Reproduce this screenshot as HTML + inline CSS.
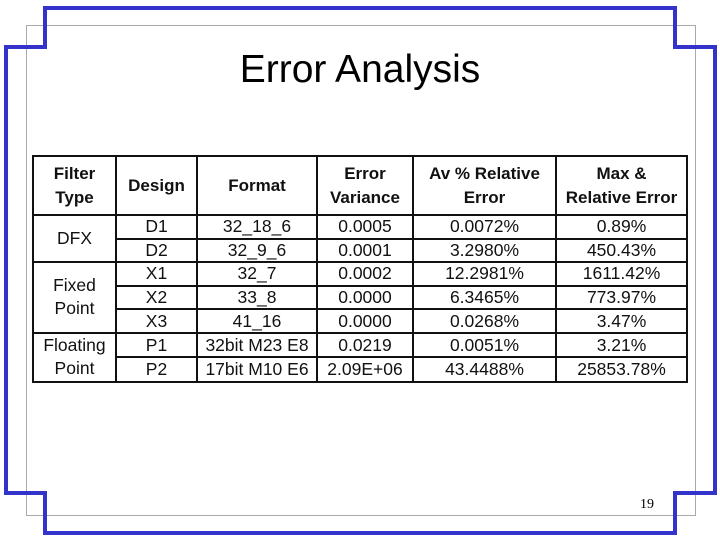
<!DOCTYPE html>
<html><head><meta charset="utf-8"><style>
body{margin:0;width:720px;height:540px;position:relative;background:#fff;overflow:hidden;font-family:"Liberation Sans",Arial,sans-serif}
.a{position:absolute}
.b{background:#3333cc}
.g{background:#aaa}
#title{left:0;width:720px;top:48px;text-align:center;font-size:39px;color:#000}
table{position:absolute;left:32px;top:155px;width:654px;height:228px;border-collapse:collapse;table-layout:fixed}
td{border:2px solid #111;text-align:center;font-size:17.5px;padding:0;line-height:21px;color:#111}
td.m{line-height:23px}
tr.h td{font-weight:bold;font-size:17px;line-height:24px}
</style></head><body>
<div class="a g" style="left:26px;top:25px;width:670px;height:1px"></div>
<div class="a g" style="left:26px;top:25px;width:1px;height:490px"></div>
<div class="a g" style="left:695px;top:25px;width:1px;height:490px"></div>
<div class="a g" style="left:26px;top:515px;width:670px;height:1px"></div>
<div class="a b" style="left:43px;top:6px;width:634px;height:4px"></div>
<div class="a b" style="left:43px;top:6px;width:4px;height:43px"></div>
<div class="a b" style="left:4px;top:45px;width:43px;height:4px"></div>
<div class="a b" style="left:673px;top:6px;width:4px;height:43px"></div>
<div class="a b" style="left:673px;top:45px;width:44px;height:4px"></div>
<div class="a b" style="left:4px;top:45px;width:4px;height:450px"></div>
<div class="a b" style="left:713px;top:45px;width:4px;height:450px"></div>
<div class="a b" style="left:4px;top:491px;width:43px;height:4px"></div>
<div class="a b" style="left:43px;top:491px;width:4px;height:44px"></div>
<div class="a b" style="left:673px;top:491px;width:44px;height:4px"></div>
<div class="a b" style="left:673px;top:491px;width:4px;height:44px"></div>
<div class="a b" style="left:43px;top:531px;width:634px;height:4px"></div>
<div class="a" id="title">Error Analysis</div>
<table>
<colgroup><col style="width:83px"><col style="width:81px"><col style="width:120px"><col style="width:96px"><col style="width:143px"><col style="width:131px"></colgroup>
<tr class="h" style="height:59px"><td>Filter<br>Type</td><td>Design</td><td>Format</td><td>Error<br>Variance</td><td>Av % Relative<br>Error</td><td>Max &amp;<br>Relative Error</td></tr>
<tr><td rowspan="2" class="m">DFX</td><td>D1</td><td>32_18_6</td><td>0.0005</td><td>0.0072%</td><td>0.89%</td></tr>
<tr><td>D2</td><td>32_9_6</td><td>0.0001</td><td>3.2980%</td><td>450.43%</td></tr>
<tr><td rowspan="3" class="m">Fixed<br>Point</td><td>X1</td><td>32_7</td><td>0.0002</td><td>12.2981%</td><td>1611.42%</td></tr>
<tr><td>X2</td><td>33_8</td><td>0.0000</td><td>6.3465%</td><td>773.97%</td></tr>
<tr><td>X3</td><td>41_16</td><td>0.0000</td><td>0.0268%</td><td>3.47%</td></tr>
<tr><td rowspan="2" class="m">Floating<br>Point</td><td>P1</td><td>32bit M23 E8</td><td>0.0219</td><td>0.0051%</td><td>3.21%</td></tr>
<tr><td>P2</td><td>17bit M10 E6</td><td>2.09E+06</td><td>43.4488%</td><td>25853.78%</td></tr>
</table>
<div class="a" style="left:640px;top:497px;font-family:'Liberation Serif',serif;font-size:14px">19</div>
</body></html>
